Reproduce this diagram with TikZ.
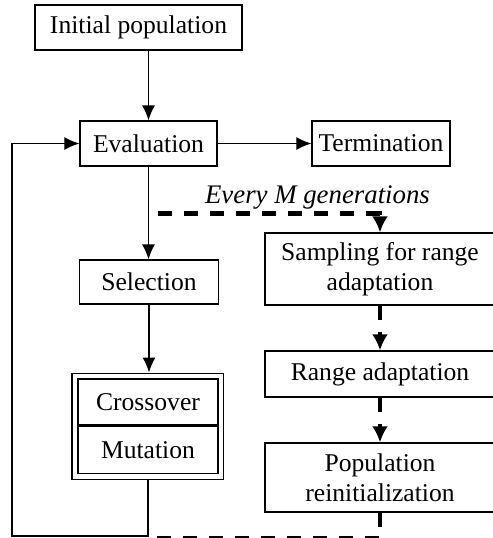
\documentclass[tikz,border=0pt]{standalone}
\usepackage{fontspec}
\setmainfont{Liberation Serif}
\usetikzlibrary{arrows.meta,positioning,fit}
\tikzstyle{mybox} = [draw=black, line width=0.65pt, rectangle, inner sep=0pt,
    align=center, font=\fontsize{12.8}{15}\selectfont]
\tikzstyle{myarrow} = [-{Latex[length=7.5pt,width=6.5pt]}, line width=0.65pt]
\tikzstyle{mydash} = [line width=2.2pt, dash pattern=on 7pt off 6pt]
\tikzstyle{mydasharrow} = [mydash, -{Latex[length=8pt,width=8pt]}]

\begin{document}
\begin{tikzpicture}[x=0.5pt, y=-0.5pt]
    \useasboundingbox (0,0) rectangle (493,538);
    % main loop
    \node[mybox, minimum width=103.5pt, minimum height=22.5pt] (init) at (138.5,27.5) {Initial population};
    \node[mybox, minimum width=68.5pt, minimum height=22.5pt] (eval) at (148.5,143.5) {Evaluation};
    \node[mybox, minimum width=69pt, minimum height=22.5pt] (term) at (381,143.5) {Termination};
    \node[mybox, minimum width=69.5pt, minimum height=22pt] (sel) at (149,282) {Selection};
    \node[mybox, minimum width=70pt, minimum height=23pt] (cross) at (148,402) {Crossover};
    \node[mybox, minimum width=70pt, minimum height=23.5pt, below=0pt of cross] (mut) {Mutation};
    \node[draw, line width=0.65pt, inner sep=2.6pt, fit=(cross)(mut)] (ga) {};
    % range adaptation branch
    \node[mybox, minimum width=115pt, minimum height=36pt] (samp) at (380,269) {Sampling for range\\adaptation};
    \node[mybox, minimum width=115pt, minimum height=23pt] (range) at (380,374) {Range adaptation};
    \node[mybox, minimum width=115pt, minimum height=34.5pt] (reinit) at (380,477.5) {Population\\reinitialization};

    \path (eval.south) ++(0,47) coordinate (split);
    \path (ga.south) ++(0,58) coordinate (low);
    \coordinate (left) at (12,536);

    \draw[myarrow] (eval.north |- init.south) -- (eval.north);
    \draw[myarrow] (eval) -- (term);
    \draw[myarrow] (eval.south) -- (eval.south |- sel.north);
    \draw[myarrow] (sel) -- (sel |- ga.north);
    \draw[mydasharrow, dash phase=8pt] (split) -| (samp.north)
        node[pos=0.365, above=1pt, inner sep=0pt, font=\fontsize{13.4}{15}\selectfont\itshape] {Every M generations};
    \draw[mydasharrow] (samp) -- (range);
    \draw[mydasharrow] (range) -- (reinit);
    \draw[mydash] (reinit.south) |- (low);
    \draw[myarrow] (ga.south) |- (left) |- (eval.west);
\end{tikzpicture}
\end{document}
